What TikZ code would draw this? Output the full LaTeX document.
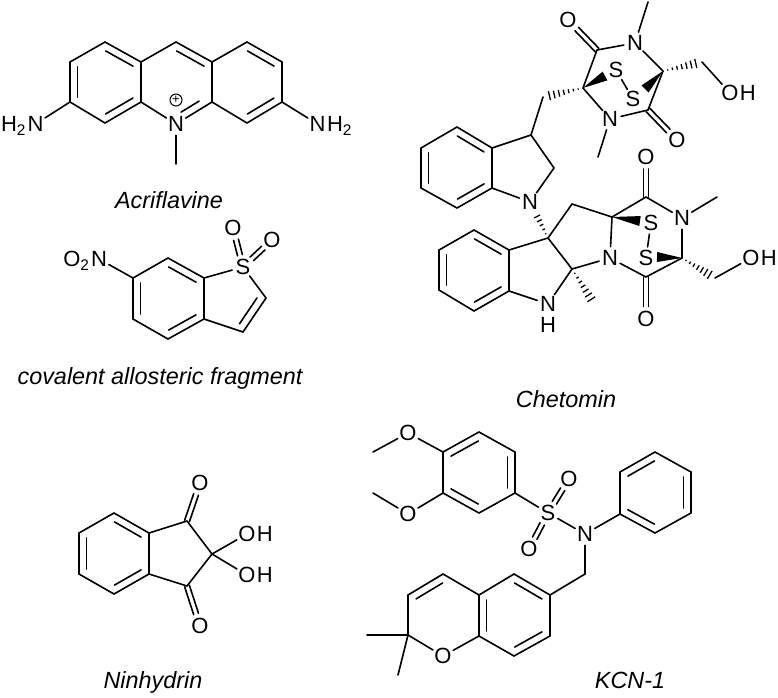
\documentclass[tikz,border=0pt]{standalone}
\usepackage{fontspec}
\setmainfont{Liberation Sans}
\usetikzlibrary{calc}
\tikzset{
	bond/.style={line width=1.6pt,line cap=round,line join=round},
	hashline/.style={line width=1.3pt},
	atom/.style={circle,inner sep=0pt,minimum size=22pt,text height=15.5pt,text depth=0pt,font=\fontsize{22}{24}\selectfont},
	atomlab/.style={inner sep=0pt,label distance=-2pt,text height=15.5pt,text depth=0pt,font=\fontsize{22}{24}\selectfont},
	hydroxy/.style={atom,label={[atomlab]right:H}},
	caption/.style={inner sep=0pt,font=\fontsize{23.4}{26}\selectfont\itshape}
}
\newcommand{\innerbond}[3][0.12]{\draw[bond] ($(#2)!#1!(#3)!7.5pt!-90:(#3)$) -- ($(#3)!#1!(#2)!7.5pt!90:(#2)$);}
\newcommand{\dblbond}[3][0]{\foreach \side in {-1,1}{\draw[bond] ($(#2)!#1!(#3)!\side*2.5pt!90:(#3)$) -- ($(#3)!0.3!(#2)!\side*2.5pt!-90:(#2)$);}}
\newcommand{\hashbond}[3][0.9]{\foreach \t in {0.12,0.24,...,#1}{\draw[hashline] ($(#2)!\t!(#3)!\t*5.5pt!90:(#3)$) -- ($(#2)!\t!(#3)!\t*5.5pt!-90:(#3)$);}}
\newcommand{\wedgebond}[2]{\fill ($(#1)$) -- ($(#2)!5pt!90:(#1)$) -- ($(#2)!5pt!-90:(#1)$) -- cycle;}
\begin{document}
\begin{tikzpicture}[x=1pt,y=-1pt]
	\useasboundingbox (0,0) rectangle (778,697);
	\foreach \nm/\px/\py in {
		ac1/105/42,ac2/141/62,ac3/141/102,ac4/105/123,ac5/70/102,ac6/70/62,
		ac7/176/42,ac8/212/62,ac9/212/102,ac10/247/42,ac11/282/62,ac12/282/102,ac13/247/123,acme/176/164,
		nb1/168/258,nb2/204/278,nb3/204/319,nb4/168/339,nb5/133/319,nb6/133/278,nb7/266/298,nb8/243/332,
		nh1/114/513,nh2/149/533,nh3/149/574,nh4/114/594,nh5/79/574,nh6/79/533,nh7/187/521,nh8/212/554,nh9/187/586,
		ka1/479/432,ka2/515/452,ka3/515/493,ka4/479/513,ka5/443/493,ka6/443/452,kame1/373/452,kame2/373/493,
		kp1/620/472,kp2/655/452,kp3/691/472,kp4/691/513,kp5/655/533,kp6/620/514,kch/585/574,
		kb1/514/574,kb2/550/595,kb3/550/636,kb4/514/656,kb5/479/636,kb6/479/595,kb7/443/574,kb8/408/595,kb9/408/635,kme1/367/635,kme2/398/675,
		t1/597/50,t2/663/71,t3/648/110,t4/583/88,tme1/648/2,tme2/598/157,tch1/702/62,tch2/543/97,tw1/605/76,tw2/645/89,
		i1/457/127,i2/492/148,i3/492/188,i4/457/208,i5/421/188,i6/421/148,i7/531/135,i8/554/168,
		b1/548/238,b2/572/204,b3/612/217,b4/572/269,bme/595/305,
		b5/509/250,b6/474/230,b7/439/250,b8/439/290,b9/474/311,b10/509/291,
		c1/646/197,c2/682/258,c3/646/277,cme/717/197,cch/715/278,cw1/640/221,cw2/657/257}
		\coordinate (\nm) at (\px,\py);
	\foreach \nm/\px/\py/\txt in {
		acn/176/124/N,nbs/243/267/S,nbo1/233/228/O,nbo2/272/240/O,nho1/200/483/O,nho2/200/626/O,
		kao1/408/433/O,kao2/408/514/O,ks/548/513/S,kso1/569/479/O,kso2/529/549/O,kn/585/534/N,kbo/443/656/O,
		to1/568/20/O,tn1/635/43/N,tn2/610/119/N,to2/677/140/O,ts1/616/70/S,ts2/633/99/S,
		in/530/202/N,bn/610/258/N,co1/646/157/O,cn/682/218/N,co2/646/319/O,cs1/651/223/S,cs2/646/258/S}
		\node[atom] (\nm) at (\px,\py) {\txt};
	\node[atom,label={[atomlab]left:H\textsubscript{2}}] (acnl) at (35.5,124) {N};
	\node[atom,label={[atomlab]right:H\textsubscript{2}}] (acnr) at (317.5,124) {N};
	\node[atom,label={[atomlab]left:O\textsubscript{2}}] (nbn) at (99,259) {N};
	\node[hydroxy] (nhoh1) at (247,534) {O};
	\node[hydroxy] (nhoh2) at (247,575) {O};
	\node[hydroxy] (toh) at (730,93) {O};
	\node[hydroxy] (coh) at (751,258) {O};
	\node[atom,label={[atomlab,label distance=1.5pt]below:H}] (bnh) at (548,304) {N};
	\node[circle,draw,line width=1pt,inner sep=0pt,minimum size=12pt,font=\fontsize{13}{13}\selectfont] (acplus) at (176,100) {+};

	\foreach \p/\q in {
		ac1/ac2,ac2/ac3,ac3/ac4,ac4/ac5,ac5/ac6,ac6/ac1,ac2/ac7,ac7/ac8,ac8/ac9,ac9/acn,acn/ac3,
		ac8/ac10,ac10/ac11,ac11/ac12,ac12/ac13,ac13/ac9,acn/acme,ac5/acnl,ac12/acnr,
		nb1/nb2,nb2/nb3,nb3/nb4,nb4/nb5,nb5/nb6,nb6/nb1,nb2/nbs,nbs/nb7,nb7/nb8,nb8/nb3,nb6/nbn,
		nh1/nh2,nh2/nh3,nh3/nh4,nh4/nh5,nh5/nh6,nh6/nh1,nh2/nh7,nh7/nh8,nh8/nh9,nh9/nh3,nh8/nhoh1,nh8/nhoh2,
		ka1/ka2,ka2/ka3,ka3/ka4,ka4/ka5,ka5/ka6,ka6/ka1,ka6/kao1,kao1/kame1,ka5/kao2,kao2/kame2,ka3/ks,ks/kn,kn/kp6,
		kp1/kp2,kp2/kp3,kp3/kp4,kp4/kp5,kp5/kp6,kp6/kp1,kn/kch,kch/kb2,
		kb1/kb2,kb2/kb3,kb3/kb4,kb4/kb5,kb5/kb6,kb6/kb1,kb6/kb7,kb7/kb8,kb8/kb9,kb9/kbo,kbo/kb5,kb9/kme1,kb9/kme2,
		t1/tn1,tn1/t2,t2/t3,t3/tn2,tn2/t4,t4/t1,tn1/tme1,tn2/tme2,tch1/toh,tch2/i7,ts1/ts2,
		i1/i2,i2/i3,i3/i4,i4/i5,i5/i6,i6/i1,i2/i7,i7/i8,i8/in,in/i3,
		b1/b2,b2/b3,b3/bn,bn/b4,b4/b1,b1/b5,b4/bnh,bnh/b10,
		b5/b6,b6/b7,b7/b8,b8/b9,b9/b10,b10/b5,
		b3/c1,c1/cn,cn/c2,c2/c3,c3/bn,cn/cme,cch/coh,cs1/cs2}
		\draw[bond] (\p) -- (\q);

	\foreach \p/\q in {ac1/ac2,ac3/ac4,ac5/ac6,ac7/ac8,ac10/ac11,ac12/ac13,
		nb1/nb2,nb3/nb4,nb5/nb6,nb7/nb8,nh1/nh2,nh3/nh4,nh5/nh6,
		ka6/ka1,ka2/ka3,ka4/ka5,kp1/kp2,kp3/kp4,kp5/kp6,kb1/kb2,kb3/kb4,kb5/kb6,kb8/kb7,
		i1/i2,i3/i4,i5/i6,b6/b5,b10/b9,b8/b7}
		\innerbond{\p}{\q};
	\innerbond[0.25]{ac9}{acn}

	\dblbond[0.3]{nbs}{nbo1}
	\dblbond[0.3]{nbs}{nbo2}
	\dblbond[0.3]{ks}{kso1}
	\dblbond[0.3]{ks}{kso2}
	\foreach \p/\q in {nh7/nho1,nh9/nho2,t1/to1,t3/to2,c1/co1,c3/co2}
		\dblbond{\p}{\q};

	\wedgebond{t4}{tw1}
	\wedgebond{t2}{tw2}
	\wedgebond{b3}{cw1}
	\wedgebond{c2}{cw2}
	\hashbond{t4}{tch2}
	\hashbond{t2}{tch1}
	\hashbond[0.72]{b1}{in}
	\hashbond{b4}{bme}
	\hashbond{c2}{cch}

	\node[caption] (acrlabel) at (169,200) {Acriflavine};
	\node[caption] (nblabel) at (160,378) {covalent allosteric fragment};
	\node[caption] (nhlabel) at (153,682) {Ninhydrin};
	\node[caption] (chlabel) at (566,399) {Chetomin};
	\node[caption] (kclabel) at (630,680) {KCN-1};
\end{tikzpicture}
\end{document}
